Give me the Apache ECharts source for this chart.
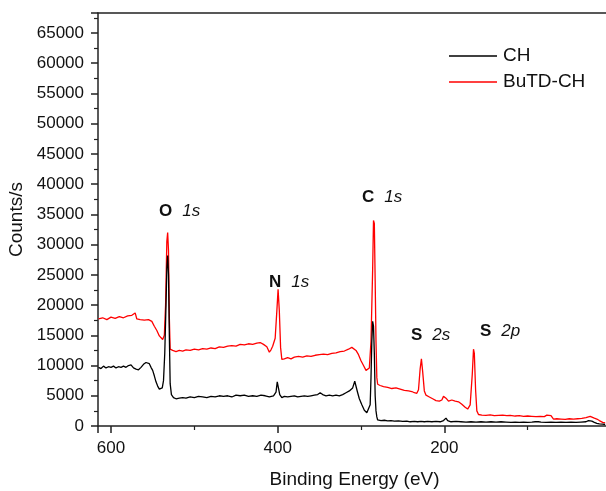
<!DOCTYPE html>
<html>
<head>
<meta charset="utf-8">
<script src="https://cdn.jsdelivr.net/npm/echarts@6/dist/echarts.min.js"></script>
<style>
  html, body { margin: 0; padding: 0; background: #fff; }
  #main { width: 606px; height: 491px; }
</style>
</head>
<body>
<div id="main"></div>
<script>
// 数据: [结合能 eV, 计数]
var seriesNames = ['CH', 'BuTD-CH'];

var chData = [
  [615, 9700], [612, 9500], [609, 9900], [606, 9600], [603, 9800], [600, 9700], [597, 9900], [594, 9600],
  [591, 9800], [588, 9700], [585, 9900], [582, 9700], [579, 10000], [576, 10100], [573, 9600], [570, 9400],
  [567, 9300], [564, 9700], [561, 10200], [558, 10500], [556, 10700], [554, 10300], [552, 9700], [550, 9200],
  [548, 8300], [546, 7300], [544, 6600], [542, 6100], [540, 5900], [538.5, 6300], [537, 7500], [535.5, 12000],
  [534, 20000], [533, 26000], [532, 28200], [531, 25000], [530, 15000], [529, 7000], [527.5, 5200], [525, 4700],
  [522, 4500], [518, 4600], [514, 4700], [510, 4600], [505, 4800], [500, 4700], [495, 4900], [490, 4800],
  [485, 4700], [480, 4900], [475, 4800], [470, 5000], [465, 4900], [460, 5000], [455, 4800], [450, 5100],
  [445, 5000], [440, 5100], [435, 4900], [430, 5000], [425, 4900], [420, 5100], [415, 5000], [410, 4800],
  [405, 5000], [402, 5600], [400.5, 7300], [399, 7100], [397.5, 5200], [395, 4700], [392, 4900], [388, 4800],
  [384, 4900], [380, 5000], [376, 4800], [372, 4900], [368, 5000], [364, 4900], [360, 5000], [356, 5100],
  [352, 5200], [349, 5500], [346, 5200], [342, 5000], [338, 5100], [334, 5000], [330, 5100], [326, 5000],
  [322, 5200], [318, 5500], [314, 5800], [310, 6300], [307.5, 7400], [306, 7300], [304, 5500], [302, 4500],
  [299, 3500], [296, 2600], [293, 2200], [291, 2100], [289, 3500], [288, 8000], [287, 14000], [286, 17300],
  [285, 16500], [284, 12000], [283, 5000], [282, 2500], [281, 1500], [280, 1000], [276, 900], [272, 950],
  [268, 850], [264, 900], [260, 800], [255, 850], [250, 750], [245, 800], [241, 700], [236, 750],
  [232, 700], [228, 750], [224, 700], [220, 750], [215, 700], [210, 750], [205, 700], [201, 900],
  [198, 1300], [196, 900], [192, 700], [186, 750], [180, 700], [174, 650], [168, 700], [162, 650],
  [156, 700], [150, 650], [144, 700], [138, 650], [132, 700], [126, 650], [120, 600], [115, 650],
  [110, 600], [105, 650], [100, 600], [95, 650], [91, 700], [89, 900], [87, 700], [84, 650],
  [78, 600], [72, 650], [66, 600], [60, 650], [54, 600], [48, 650], [42, 600], [36, 650],
  [30, 700], [27, 900], [25, 1000], [23, 800], [20, 600], [17, 450], [14, 350], [10, 300], [7, 250]
];

var butdData = [
  [615, 17700], [610, 17900], [605, 17600], [600, 18000], [595, 17800], [590, 18100], [585, 17900], [580, 18200],
  [575, 18300], [571, 18700], [569, 17700], [565, 17600], [560, 17500], [555, 17600], [551, 17300], [548, 16500],
  [545, 15800], [542, 14900], [540, 14700], [538, 14300], [536, 15000], [534.5, 20000], [533, 30500], [532, 32000],
  [531, 29000], [530, 18000], [529, 12700], [526, 12500], [522, 12300], [518, 12500], [514, 12400], [510, 12600],
  [505, 12500], [500, 12700], [495, 12600], [490, 12800], [485, 12700], [480, 12900], [475, 12800], [470, 13100],
  [465, 13000], [460, 13200], [455, 13300], [450, 13200], [445, 13500], [440, 13400], [435, 13600], [430, 13500],
  [425, 13700], [421, 13800], [417, 13500], [413, 13100], [410, 12200], [408, 12600], [406, 13200], [403, 14500],
  [401, 19000], [399.5, 22600], [398, 19000], [396.5, 13000], [395, 11000], [392, 11100], [388, 11300], [384, 11100],
  [380, 11400], [375, 11500], [370, 11400], [365, 11600], [360, 11500], [355, 11700], [350, 11800], [345, 11900],
  [340, 11800], [335, 12000], [330, 12100], [325, 12300], [320, 12400], [315, 12700], [311, 13000], [309, 13100],
  [306, 12500], [303, 11800], [300, 10800], [297, 10000], [294, 9200], [292, 9000], [290, 9600], [288, 14000],
  [286, 26000], [285, 34000], [284, 33500], [283, 24000], [282, 14000], [281, 8000], [280, 6900], [277, 6700],
  [273, 6500], [268, 6400], [263, 6200], [258, 6300], [253, 6100], [248, 5900], [243, 5800], [239, 5700],
  [236, 5500], [233, 5400], [231, 6000], [229, 9500], [227.5, 11100], [226, 9000], [224, 5800], [222, 5100],
  [218, 4800], [214, 4500], [210, 4200], [206, 4100], [203, 4300], [201, 4900], [199.5, 5200], [198, 4600],
  [195, 4100], [191, 4300], [187, 4100], [183, 4000], [179, 3600], [175, 3100], [172, 2800], [169, 3500],
  [166.5, 8500], [165, 12700], [164, 12000], [162.5, 6000], [161, 2500], [159, 1900], [155, 1800], [150, 1750],
  [145, 1850], [140, 1700], [135, 1750], [130, 1800], [125, 1700], [121, 1750], [115, 1650], [110, 1700],
  [105, 1600], [100, 1650], [95, 1600], [90, 1550], [85, 1600], [80, 1550], [77, 1800], [75, 2000],
  [72, 1700], [69, 1150], [65, 1200], [60, 1150], [55, 1100], [50, 1200], [45, 1150], [40, 1200],
  [35, 1250], [30, 1400], [28, 1650], [25, 1600], [20, 1300], [17, 1150], [14, 900], [10, 600], [7, 500]
];

// 峰标注: 元素 + 轨道
var peakElements = ['O', 'N', 'C', 'S', 'S'];
var peakOrbitals = ['1s', '1s', '1s', '2s', '2p'];

var font = 'Liberation Sans, Arial, sans-serif';
var ink = '#111';

// 标注位置 (像素)
var labelPos = [[159, 213], [269, 284], [362, 199], [411, 337], [480, 333]];
var graphics = [];
for (var i = 0; i < peakElements.length; i++) {
  graphics.push({
    type: 'text', left: labelPos[i][0], top: labelPos[i][1] - 10,
    style: {
      text: '{b|' + peakElements[i] + '}   {i|' + peakOrbitals[i] + '}',
      rich: {
        b: { fontFamily: font, fontSize: 17, fontWeight: 'bold', fill: ink },
        i: { fontFamily: font, fontSize: 17, fontStyle: 'italic', fill: ink }
      }
    }
  });
}

var myChart = echarts.init(document.getElementById('main'));
var option = {
  animation: false,
  backgroundColor: '#fff',
  grid: { left: 98, right: -5, top: 13, bottom: 65, outerBoundsMode: 'none', containLabel: false },
  legend: {
    orient: 'vertical', left: 444, top: 41,
    data: seriesNames,
    icon: 'rect', itemWidth: 48, itemHeight: 1.5, itemGap: 6,
    textStyle: { fontFamily: font, fontSize: 19, color: ink, lineHeight: 20, padding: [0, 0, 0, 1] }
  },
  xAxis: [{
    type: 'value', inverse: true, min: 0, max: 615.6, interval: 200,
    name: 'Binding Energy (eV)', nameLocation: 'middle', nameGap: 44,
    nameTextStyle: { fontFamily: font, fontSize: 19, color: ink },
    axisLine: { show: true, onZero: false, lineStyle: { color: '#222', width: 1.5 } },
    axisTick: { show: true, length: 7, lineStyle: { color: '#222', width: 1.5 } },
    minorTick: { show: true, splitNumber: 2, length: 4, lineStyle: { color: '#222', width: 1.2 } },
    splitLine: { show: false },
    axisLabel: {
      fontFamily: font, fontSize: 17, color: ink, margin: 14,
      formatter: function (v) { return (v > 0 && v % 200 === 0) ? String(v) : ''; }
    }
  }, {
    type: 'value', position: 'top', inverse: true, min: 0, max: 615.6,
    axisLine: { show: true, onZero: false, lineStyle: { color: '#222', width: 1.5 } },
    axisTick: { show: false }, axisLabel: { show: false }, splitLine: { show: false }
  }],
  yAxis: {
    type: 'value', min: 0, max: 68300, interval: 5000,
    name: 'Counts/s', nameLocation: 'middle', nameGap: 68,
    nameTextStyle: { fontFamily: font, fontSize: 19, color: ink },
    axisLine: { show: true, onZero: false, lineStyle: { color: '#222', width: 1.5 } },
    axisTick: { show: true, length: 7, lineStyle: { color: '#222', width: 1.5 } },
    minorTick: { show: true, splitNumber: 2, length: 4, lineStyle: { color: '#222', width: 1.2 } },
    splitLine: { show: false },
    axisLabel: {
      fontFamily: font, fontSize: 17, color: ink, margin: 14,
      formatter: function (v) { return v % 5000 === 0 ? String(v) : ''; }
    }
  },
  series: [
    // 红线先画, 黑线在上层
    {
      name: 'BuTD-CH', type: 'line', data: butdData, showSymbol: false, symbol: 'none',
      itemStyle: { color: '#ff0000' }, lineStyle: { color: '#ff0000', width: 1.3 }
    },
    {
      name: 'CH', type: 'line', data: chData, showSymbol: false, symbol: 'none',
      itemStyle: { color: '#000' }, lineStyle: { color: '#000', width: 1.3 }
    }
  ],
  graphic: graphics
};
myChart.setOption(option);
</script>
</body>
</html>
